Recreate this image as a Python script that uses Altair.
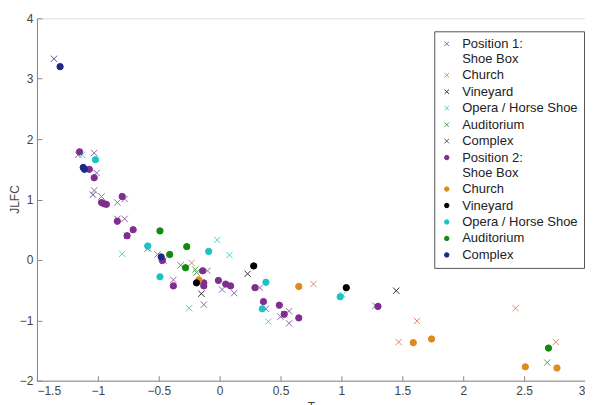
import altair as alt
import pandas as pd

# ---- data ----
# Position 1 (crosses)
p1_shoebox_x = [-1.16, -1.03, -1.01, -1.03, -0.97, -0.84, -0.78, -0.84, -0.78, -0.76, -0.46, -0.38, -0.10, -0.13, 0.02, 0.12, 0.33, 0.38, 0.50, 0.53, 0.57, 0.57, 1.28]
p1_shoebox_y = [1.74, 1.77, 1.44, 1.15, 1.05, 0.95, 1.01, 0.68, 0.68, 0.40, -0.01, -0.33, -0.18, -0.74, -0.49, -0.55, -0.46, -0.81, -0.94, -0.90, -0.85, -1.05, -0.76]
p1_church_x = [-0.23, 0.77, 1.62, 1.47, 2.43, 2.76]
p1_church_y = [-0.05, -0.40, -1.01, -1.36, -0.80, -1.36]
p1_vineyard_x = [-0.15, 0.23, 1.45]
p1_vineyard_y = [-0.56, -0.23, -0.51]
p1_opera_x = [-1.13, -0.80, -0.25, -0.02, 0.08, 0.40, 1.01]
p1_opera_y = [1.74, 0.10, -0.80, 0.33, 0.08, -1.02, -0.58]
p1_aud_x = [-0.51, -0.32, -0.20, -0.19, 2.69]
p1_aud_y = [0.09, -0.09, -0.16, -0.21, -1.70]
p1_complex_x = [-1.36, -1.04, -0.59]
p1_complex_y = [3.33, 1.08, 0.19]

# Position 2 (dots)
p2_shoebox_x = [-1.15, -1.07, -1.03, -0.97, -0.95, -0.93, -0.80, -0.84, -0.71, -0.76, -0.47, -0.38, -0.14, -0.13, -0.13, -0.01, 0.05, 0.09, 0.29, 0.36, 0.49, 0.53, 0.65, 1.30]
p2_shoebox_y = [1.79, 1.50, 1.36, 0.95, 0.93, 0.92, 1.05, 0.64, 0.50, 0.40, -0.01, -0.43, -0.18, -0.38, -0.43, -0.34, -0.40, -0.43, -0.46, -0.69, -0.75, -0.90, -0.96, -0.77]
p2_church_x = [-0.17, 0.65, 1.59, 1.74, 2.51, 2.77]
p2_church_y = [-0.33, -0.44, -1.37, -1.31, -1.77, -1.79]
p2_vineyard_x = [-0.19, 0.28, 1.04]
p2_vineyard_y = [-0.38, -0.10, -0.46]
p2_opera_x = [-1.02, -0.59, -0.49, -0.09, 0.38, 0.35, 0.99]
p2_opera_y = [1.66, 0.23, -0.28, 0.14, -0.37, -0.81, -0.61]
p2_aud_x = [-0.49, -0.41, -0.27, -0.28, 2.70]
p2_aud_y = [0.48, 0.09, 0.22, -0.13, -1.46]
p2_complex_x = [-1.31, -1.12, -1.11, -0.48]
p2_complex_y = [3.20, 1.53, 1.50, 0.05]

series_keys = [
    "Position 1:|Shoe Box", "1|Church", "1|Vineyard", "1|Opera / Horse Shoe", "1|Auditorium", "1|Complex",
    "Position 2:|Shoe Box", "2|Church", "2|Vineyard", "2|Opera / Horse Shoe", "2|Auditorium", "2|Complex",
]
series_xy = [
    (p1_shoebox_x, p1_shoebox_y), (p1_church_x, p1_church_y), (p1_vineyard_x, p1_vineyard_y),
    (p1_opera_x, p1_opera_y), (p1_aud_x, p1_aud_y), (p1_complex_x, p1_complex_y),
    (p2_shoebox_x, p2_shoebox_y), (p2_church_x, p2_church_y), (p2_vineyard_x, p2_vineyard_y),
    (p2_opera_x, p2_opera_y), (p2_aud_x, p2_aud_y), (p2_complex_x, p2_complex_y),
]
colors = ["#9566ad", "#e08866", "#333333", "#4fd0d0", "#55a055", "#4d5a98",
          "#7e2f8e", "#e0891c", "#000000", "#1cc3c3", "#128a12", "#1b2a86"]
xtick_values = [-1.5, -1, -0.5, 0, 0.5, 1, 1.5, 2, 2.5, 3]
ytick_values = [-2, -1, 0, 1, 2, 3, 4]

rows = []
for key, (xs, ys) in zip(series_keys, series_xy):
    for a, b in zip(xs, ys):
        rows.append({"series": key, "T": a, "JLFC": b})
df = pd.DataFrame(rows)

cross = "M-1,-1L1,1M-1,1L1,-1"
shapes = [cross] * 6 + ["circle"] * 6
fills = ["transparent"] * 6 + colors[6:]

legend = alt.Legend(
    orient="none", legendX=398, legendY=13, title=None,
    labelExpr="length(split(datum.label, '|')[0]) > 1 ? split(datum.label, '|') : split(datum.label, '|')[1]",
    labelFont="Liberation Sans", labelFontSize=13, labelColor="#222222",
    symbolSize=20, symbolStrokeWidth=1, strokeColor="#555555", fillColor="white",
    padding=6, rowPadding=2.5, labelOffset=9, labelLimit=300,
)

axis_common = dict(
    labelFont="Liberation Sans", labelFontSize=12, labelColor="#444444", format="~g",
    titleFont="Liberation Sans", titleFontSize=12, titleColor="#444444", titleFontWeight="normal",
    domainColor="#888888", tickColor="#888888", tickSize={"expr": "-5"}, grid=False,
)

chart = alt.Chart(df).mark_point(size=40, opacity=1, strokeWidth=1).encode(
    x=alt.X("T:Q", scale=alt.Scale(domain=[-1.5, 3], nice=False, zero=False),
            axis=alt.Axis(values=xtick_values, title="T", labelPadding=10, titlePadding=5, **axis_common)),
    y=alt.Y("JLFC:Q", scale=alt.Scale(domain=[-2, 4], nice=False, zero=False),
            axis=alt.Axis(values=ytick_values, title="JLFC", labelPadding=9, titleX=-15, titleY=181, **axis_common)),
    shape=alt.Shape("series:N", scale=alt.Scale(domain=series_keys, range=shapes), legend=legend),
    stroke=alt.Stroke("series:N", scale=alt.Scale(domain=series_keys, range=colors), legend=legend),
    fill=alt.Fill("series:N", scale=alt.Scale(domain=series_keys, range=fills), legend=legend),
).properties(
    width=549, height=363,
    autosize=alt.AutoSizeParams(type="none"),
    padding={"left": 29, "top": 10, "right": 0, "bottom": 30},
).configure_view(stroke=None).configure(background="white")

chart.save("out.html", embed_options={"renderer": "svg", "actions": False})
